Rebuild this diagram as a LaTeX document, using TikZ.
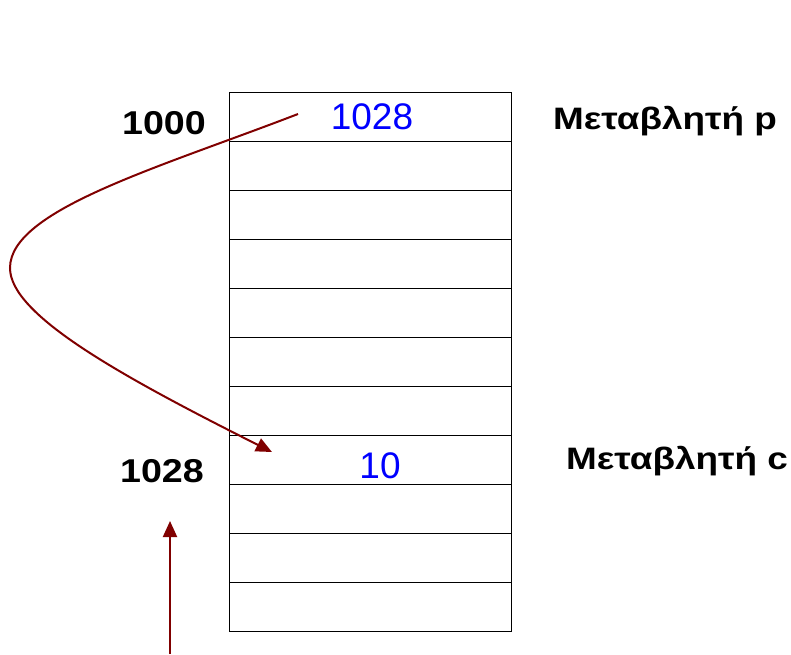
\documentclass[tikz,border=0pt]{standalone}
\usepackage{fontspec}
\setmainfont{Liberation Sans}
\usetikzlibrary{arrows,arrows.meta,calc,positioning}
\definecolor{ptrred}{RGB}{128,0,0}
\definecolor{valblue}{RGB}{0,0,255}
\newcommand{\xstretch}[2]{\scalebox{#1}[1]{#2}}

\begin{document}
\begin{tikzpicture}[x=1pt,y=-1pt,
		cell/.style={draw,rectangle,minimum width=282pt,minimum height=49pt,inner sep=0pt,outer sep=0pt,line width=0.8pt},
		addr/.style={font=\fontsize{33}{40}\selectfont\bfseries,anchor=base east,inner sep=0pt},
		varname/.style={font=\fontsize{31}{38}\selectfont\bfseries,anchor=base west,inner sep=0pt},
		val/.style={font=\fontsize{37}{44}\selectfont,text=valblue,anchor=base,inner sep=0pt},
		ptr/.style={draw=ptrred,line width=2pt,-{Triangle[length=16pt,width=14pt]}}]
			\useasboundingbox (0,0) rectangle (791,654);
			\node[cell] (m1) at (370,116.5) {};
			\node[cell,below=0pt of m1] (m2) {};
			\node[cell,below=0pt of m2] (m3) {};
			\node[cell,below=0pt of m3] (m4) {};
			\node[cell,below=0pt of m4] (m5) {};
			\node[cell,below=0pt of m5] (m6) {};
			\node[cell,below=0pt of m6] (m7) {};
			\node[cell,below=0pt of m7] (m8) {};
			\node[cell,below=0pt of m8] (m9) {};
			\node[cell,below=0pt of m9] (m10) {};
			\node[cell,below=0pt of m10] (m11) {};
			\node[val] (vp) at (372,129) {1028};
			\node[val] (vc) at (380,478) {10};
			\node[addr] (a1) at (206,134) {\xstretch{1.14}{1000}};
			\node[addr] (a2) at (204,482) {\xstretch{1.14}{1028}};
			\node[varname] (np) at (553,129) {\xstretch{1.19}{Μεταβλητή p}};
			\node[varname] (nc) at (566,469) {\xstretch{1.19}{Μεταβλητή c}};
			\coordinate (from) at (298,114);
			\coordinate (to) at (272,452);
			\coordinate (base) at (170,654);
			\coordinate (tip) at (170,521);
			\draw[ptr] (from) .. controls (158,168) and (10,210) .. (10,268) .. controls (10,315) and (121,376) .. (to);
			\draw[ptr] (base) -- (tip);
		\end{tikzpicture}
\end{document}
